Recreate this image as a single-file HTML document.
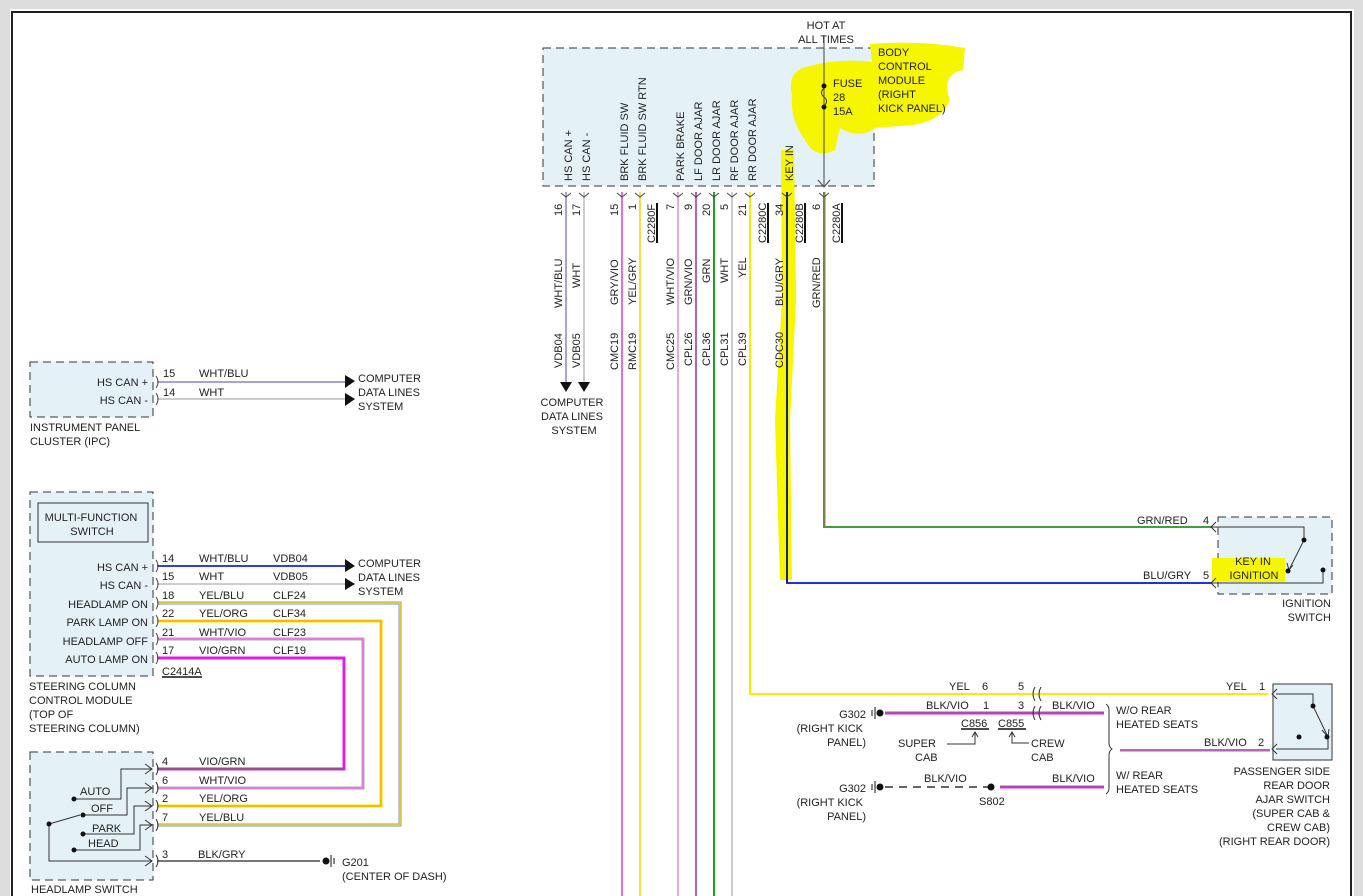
<!DOCTYPE html>
<html><head><meta charset="utf-8"><style>
html,body{margin:0;padding:0;background:#fff;}
svg{display:block;font-family:"Liberation Sans",sans-serif;font-size:11px;fill:#222;}
text{fill:#222;}
</style></head><body>
<svg width="1363" height="896" viewBox="0 0 1363 896" xmlns="http://www.w3.org/2000/svg">
<rect x="0" y="0" width="1363" height="896" fill="#fff"/>
<rect x="0" y="0" width="1363" height="9" fill="#ddd"/>
<rect x="1354" y="0" width="9" height="896" fill="#ddd"/>
<rect x="0" y="0" width="10" height="896" fill="#ddd"/>
<path d="M12,896 V12 H1351 V896" fill="none" stroke="#222" stroke-width="2"/>

<!-- BCM box -->
<rect x="543" y="48" width="331" height="138" fill="#e4f2f8" stroke="#333" stroke-dasharray="8,5"/>

<!-- yellow highlights -->
<g fill="#f6f600">
<path d="M870,44 Q920,40 965,48 L963,70 Q940,75 950,100 Q940,125 900,126 L875,128 Q860,140 840,128 L835,150 Q815,160 805,140 Q790,120 792,95 Q786,70 810,66 Q840,58 872,62 Z"/>
<path d="M781,150 L794,150 L796,300 L790,420 L792,580 L780,580 L775,420 L782,300 Z"/>
</g>

<g font-size="11">
<text x="826" y="29" text-anchor="middle">HOT AT</text>
<text x="826" y="43" text-anchor="middle">ALL TIMES</text>
<text x="833" y="87">FUSE</text><text x="833" y="101">28</text><text x="833" y="115">15A</text>
<text x="878" y="56">BODY</text><text x="878" y="70">CONTROL</text><text x="878" y="84">MODULE</text><text x="878" y="98">(RIGHT</text><text x="878" y="112">KICK PANEL)</text>
</g>
<line x1="824" y1="35" x2="824" y2="186" stroke="#444"/>
<path d="M818,180 L824,187 L830,180" fill="none" stroke="#444"/>
<circle cx="824" cy="86" r="2.5" fill="#111"/><circle cx="824" cy="107" r="2.5" fill="#111"/>
<path d="M824,88 q-5,5 0,9 q5,4 0,9" fill="none" stroke="#333"/>

<!-- BCM inside labels -->
<g font-size="11">
<text transform="translate(572,181) rotate(-90)">HS CAN +</text>
<text transform="translate(590,181) rotate(-90)">HS CAN -</text>
<text transform="translate(628,181) rotate(-90)">BRK FLUID SW</text>
<text transform="translate(646,181) rotate(-90)">BRK FLUID SW RTN</text>
<text transform="translate(684,181) rotate(-90)">PARK BRAKE</text>
<text transform="translate(702,181) rotate(-90)">LF DOOR AJAR</text>
<text transform="translate(720,181) rotate(-90)">LR DOOR AJAR</text>
<text transform="translate(738,181) rotate(-90)">RF DOOR AJAR</text>
<text transform="translate(756,181) rotate(-90)">RR DOOR AJAR</text>
<text transform="translate(793,181) rotate(-90)">KEY IN</text>
</g>

<!-- vertical wires -->
<g fill="none" stroke-width="2">
<path d="M566,192 V382" stroke="#a8a0e0"/>
<path d="M584,192 V382" stroke="#ccc"/>
<path d="M622,192 V896" stroke="#e070e0"/>
<path d="M640,192 V896" stroke="#f0e040"/>
<path d="M678,192 V896" stroke="#e8a8e0"/>
<path d="M696,192 V896" stroke="#c060b0"/>
<path d="M714,192 V896" stroke="#20a020"/>
<path d="M732,192 V896" stroke="#ccc"/>
<path d="M750,192 V694 H1268" stroke="#f0f000"/>
<path d="M787,192 V583 H1212" stroke="#2030e0"/>
<path d="M824,192 V527 H1212" stroke="#40a040"/>
<path d="M825,192 V527" stroke="#b07050" stroke-width="1"/>
<path d="M787,192 V583" stroke="#111" stroke-width="1"/>
</g>
<g fill="none" stroke="#444" stroke-width="1">
<path d="M561,193 l5,4 l5,-4 M579,193 l5,4 l5,-4 M617,193 l5,4 l5,-4 M635,193 l5,4 l5,-4 M673,193 l5,4 l5,-4 M691,193 l5,4 l5,-4 M709,193 l5,4 l5,-4 M727,193 l5,4 l5,-4 M745,193 l5,4 l5,-4 M782,193 l5,4 l5,-4 M819,193 l5,4 l5,-4"/>
</g>
<polygon points="560,382 572,382 566,392" fill="#111"/>
<polygon points="578,382 590,382 584,392" fill="#111"/>
<g font-size="11" text-anchor="middle">
<text x="572" y="406">COMPUTER</text><text x="572" y="420">DATA LINES</text><text x="574" y="434">SYSTEM</text>
</g>

<!-- pin numbers, colors, circuits -->
<g font-size="11">
<text transform="translate(562,216) rotate(-90)">16</text>
<text transform="translate(580,216) rotate(-90)">17</text>
<text transform="translate(618,216) rotate(-90)">15</text>
<text transform="translate(636,210) rotate(-90)">1</text>
<text transform="translate(674,210) rotate(-90)">7</text>
<text transform="translate(692,210) rotate(-90)">9</text>
<text transform="translate(710,216) rotate(-90)">20</text>
<text transform="translate(728,210) rotate(-90)">5</text>
<text transform="translate(746,216) rotate(-90)">21</text>
<text transform="translate(783,216) rotate(-90)">34</text>
<text transform="translate(820,210) rotate(-90)">6</text>
<text transform="translate(655,243) rotate(-90)">C2280F</text>
<text transform="translate(766,243) rotate(-90)">C2280C</text>
<text transform="translate(803,243) rotate(-90)">C2280B</text>
<text transform="translate(840,243) rotate(-90)">C2280A</text>
<text transform="translate(562,308) rotate(-90)">WHT/BLU</text>
<text transform="translate(580,288) rotate(-90)">WHT</text>
<text transform="translate(618,305) rotate(-90)">GRY/VIO</text>
<text transform="translate(636,305) rotate(-90)">YEL/GRY</text>
<text transform="translate(674,305) rotate(-90)">WHT/VIO</text>
<text transform="translate(692,305) rotate(-90)">GRN/VIO</text>
<text transform="translate(710,283) rotate(-90)">GRN</text>
<text transform="translate(728,283) rotate(-90)">WHT</text>
<text transform="translate(746,278) rotate(-90)">YEL</text>
<text transform="translate(783,306) rotate(-90)">BLU/GRY</text>
<text transform="translate(820,308) rotate(-90)">GRN/RED</text>
<text transform="translate(562,368) rotate(-90)">VDB04</text>
<text transform="translate(580,368) rotate(-90)">VDB05</text>
<text transform="translate(618,370) rotate(-90)">CMC19</text>
<text transform="translate(636,370) rotate(-90)">RMC19</text>
<text transform="translate(674,370) rotate(-90)">CMC25</text>
<text transform="translate(692,366) rotate(-90)">CPL26</text>
<text transform="translate(710,366) rotate(-90)">CPL36</text>
<text transform="translate(728,366) rotate(-90)">CPL31</text>
<text transform="translate(746,366) rotate(-90)">CPL39</text>
<text transform="translate(783,368) rotate(-90)">CDC30</text>
</g>
<g stroke="#111" stroke-width="2"><line x1="657" y1="203" x2="657" y2="243"/><line x1="768" y1="203" x2="768" y2="243"/><line x1="805" y1="203" x2="805" y2="243"/><line x1="842" y1="203" x2="842" y2="243"/></g>

<!-- IPC -->
<rect x="30" y="362" width="123" height="55" fill="#e4f2f8" stroke="#333" stroke-dasharray="8,5"/>
<g font-size="11">
<text x="148" y="386" text-anchor="end">HS CAN +</text>
<text x="148" y="404" text-anchor="end">HS CAN -</text>
<text x="30" y="431">INSTRUMENT PANEL</text><text x="30" y="445">CLUSTER (IPC)</text>
<text x="163" y="377">15</text><text x="199" y="377">WHT/BLU</text>
<text x="163" y="396">14</text><text x="199" y="396">WHT</text>
<text x="358" y="382">COMPUTER</text><text x="358" y="396">DATA LINES</text><text x="358" y="410">SYSTEM</text>
</g>
<line x1="157" y1="382" x2="345" y2="382" stroke="#a8a0e0" stroke-width="2"/>
<line x1="157" y1="399" x2="345" y2="399" stroke="#ccc" stroke-width="2"/>
<polygon points="345,375 355,381 345,388" fill="#111"/>
<polygon points="345,393 355,399 345,406" fill="#111"/>
<path d="M156,376 q4,6 0,12 M156,393 q4,6 0,12" fill="none" stroke="#444"/>

<!-- SCCM -->
<rect x="30" y="492" width="123" height="184" fill="#e4f2f8" stroke="#333" stroke-dasharray="8,5"/>
<rect x="38" y="503" width="110" height="39" fill="#e4f2f8" stroke="#333"/>
<g font-size="11">
<text x="91" y="521" text-anchor="middle">MULTI-FUNCTION</text><text x="92" y="535" text-anchor="middle">SWITCH</text>
<text x="148" y="571" text-anchor="end">HS CAN +</text>
<text x="148" y="589" text-anchor="end">HS CAN -</text>
<text x="148" y="608" text-anchor="end">HEADLAMP ON</text>
<text x="148" y="626" text-anchor="end">PARK LAMP ON</text>
<text x="148" y="645" text-anchor="end">HEADLAMP OFF</text>
<text x="148" y="663" text-anchor="end">AUTO LAMP ON</text>
<text x="162" y="675">C2414A</text>
<text x="29" y="690">STEERING COLUMN</text><text x="29" y="704">CONTROL MODULE</text><text x="29" y="718">(TOP OF</text><text x="29" y="732">STEERING COLUMN)</text>
<text x="162" y="562">14</text><text x="199" y="562">WHT/BLU</text><text x="273" y="562">VDB04</text>
<text x="162" y="580">15</text><text x="199" y="580">WHT</text><text x="273" y="580">VDB05</text>
<text x="162" y="599">18</text><text x="199" y="599">YEL/BLU</text><text x="273" y="599">CLF24</text>
<text x="162" y="617">22</text><text x="199" y="617">YEL/ORG</text><text x="273" y="617">CLF34</text>
<text x="162" y="636">21</text><text x="199" y="636">WHT/VIO</text><text x="273" y="636">CLF23</text>
<text x="162" y="654">17</text><text x="199" y="654">VIO/GRN</text><text x="273" y="654">CLF19</text>
<text x="358" y="567">COMPUTER</text><text x="358" y="581">DATA LINES</text><text x="358" y="595">SYSTEM</text>
</g>
<line x1="162" y1="677" x2="202" y2="677" stroke="#111" stroke-width="1.5"/>
<line x1="157" y1="566" x2="345" y2="566" stroke="#3040e0" stroke-width="2"/>
<line x1="157" y1="584" x2="345" y2="584" stroke="#ccc" stroke-width="2"/>
<polygon points="345,559 355,566 345,572" fill="#111"/>
<polygon points="345,578 355,584 345,590" fill="#111"/>
<g fill="none" stroke-width="2">
<path d="M157,603 H400 V825 H157" stroke="#8090e0" stroke-width="3"/>
<path d="M157,603 H400 V825 H157" stroke="#f0e000" stroke-width="1.5"/>
<path d="M157,621 H381 V806 H157" stroke="#f0e000" stroke-width="3"/>
<path d="M157,621 H381 V806 H157" stroke="#f0a000" stroke-width="1"/>
<path d="M157,639 H363 V788 H157" stroke="#aaa" stroke-width="3"/>
<path d="M157,639 H363 V788 H157" stroke="#f070f0" stroke-width="1.5"/>
<path d="M157,658 H344 V769 H157" stroke="#e020e0" stroke-width="3"/>
<path d="M157,768 H344" stroke="#309030" stroke-width="1"/>
<path d="M157,861 H320" stroke="#777"/>
</g>
<path d="M156,560 q4,6 0,12 M156,578 q4,6 0,12 M156,597 q4,6 0,12 M156,615 q4,6 0,12 M156,633 q4,6 0,12 M156,652 q4,6 0,12" fill="none" stroke="#444"/>

<!-- headlamp switch -->
<rect x="30" y="752" width="123" height="128" fill="#e4f2f8" stroke="#333" stroke-dasharray="8,5"/>
<g fill="none" stroke="#333" stroke-width="1">
<path d="M74,799 H121 V769 H152 M145,764 l7,5 l-7,5"/>
<path d="M83,815 H127 V788 H152 M145,783 l7,5 l-7,5"/>
<path d="M83,834 H134 V806 H152 M145,801 l7,5 l-7,5"/>
<path d="M74,850 H140 V825 H152 M145,820 l7,5 l-7,5"/>
<path d="M49,824 L80,815"/>
<path d="M49,824 V861 H152 M145,856 l7,5 l-7,5"/>
<path d="M156,763 q4,6 0,12 M156,782 q4,6 0,12 M156,800 q4,6 0,12 M156,819 q4,6 0,12 M156,855 q4,6 0,12"/>
</g>
<g fill="#111"><circle cx="74" cy="799" r="2.5"/><circle cx="83" cy="815" r="2.5"/><circle cx="83" cy="834" r="2.5"/><circle cx="74" cy="850" r="2.5"/><circle cx="49" cy="824" r="2.5"/></g>
<g font-size="11">
<text x="80" y="795">AUTO</text><text x="91" y="812">OFF</text><text x="92" y="832">PARK</text><text x="88" y="847">HEAD</text>
<text x="31" y="893">HEADLAMP SWITCH</text>
<text x="162" y="765">4</text><text x="199" y="765">VIO/GRN</text>
<text x="162" y="784">6</text><text x="199" y="784">WHT/VIO</text>
<text x="162" y="802">2</text><text x="199" y="802">YEL/ORG</text>
<text x="162" y="821">7</text><text x="199" y="821">YEL/BLU</text>
<text x="162" y="858">3</text><text x="198" y="858">BLK/GRY</text>
<text x="342" y="866">G201</text><text x="342" y="880">(CENTER OF DASH)</text>
</g>
<circle cx="326" cy="861" r="3.5" fill="#111"/>
<path d="M331,855 V867 M334,858 V864" stroke="#111"/>

<!-- ignition switch -->
<rect x="1218" y="517" width="114" height="77" fill="#e4f2f8" stroke="#333" stroke-dasharray="8,5"/>
<rect x="1212" y="558" width="73" height="24" fill="#f6f600"/>
<g fill="none" stroke="#333">
<path d="M1212,527 H1304 V540 M1212,583 H1323 V570"/>
<path d="M1304,540 L1289,570" /><path d="M1287,563 l2,7 l4,-5"/>
<path d="M1216,522 l-5,5 l5,5 M1216,578 l-5,5 l5,5"/>
</g>
<g fill="#111"><circle cx="1304" cy="540" r="2.5"/><circle cx="1288" cy="571" r="2.5"/><circle cx="1323" cy="570" r="2.5"/></g>
<g font-size="11">
<text x="1253" y="565" text-anchor="middle">KEY IN</text><text x="1254" y="579" text-anchor="middle">IGNITION</text>
<text x="1137" y="524">GRN/RED</text><text x="1203" y="524">4</text>
<text x="1143" y="579">BLU/GRY</text><text x="1203" y="579">5</text>
<text x="1331" y="607" text-anchor="end">IGNITION</text><text x="1331" y="621" text-anchor="end">SWITCH</text>
</g>

<!-- passenger rear door -->
<rect x="1273" y="684" width="59" height="76" fill="#e4f2f8" stroke="#333"/>
<g fill="none" stroke="#333">
<path d="M1276,694 H1313 V706 L1328,737 V749 H1276"/>
<path d="M1322,730 l6,7 l1,-8"/>
<path d="M1277,689 l-5,5 l5,5 M1277,744 l-5,5 l5,5"/>
</g>
<g fill="#111"><circle cx="1313" cy="706" r="2.5"/><circle cx="1327" cy="737" r="2.5"/><circle cx="1299" cy="737" r="2.5"/></g>
<line x1="1120" y1="750" x2="1270" y2="750" stroke="#888" stroke-width="2"/>
<line x1="1120" y1="751" x2="1270" y2="751" stroke="#e040e0" stroke-width="1"/>
<g font-size="11">
<text x="1226" y="690">YEL</text><text x="1259" y="690">1</text>
<text x="1204" y="746">BLK/VIO</text><text x="1258" y="746">2</text>
<text x="1330" y="775" text-anchor="end">PASSENGER SIDE</text>
<text x="1330" y="789" text-anchor="end">REAR DOOR</text>
<text x="1330" y="803" text-anchor="end">AJAR SWITCH</text>
<text x="1330" y="817" text-anchor="end">(SUPER CAB &amp;</text>
<text x="1330" y="831" text-anchor="end">CREW CAB)</text>
<text x="1330" y="845" text-anchor="end">(RIGHT REAR DOOR)</text>
</g>

<!-- lower middle -->
<line x1="885" y1="713" x2="1104" y2="713" stroke="#e020e0" stroke-width="3"/>
<line x1="885" y1="712" x2="1104" y2="712" stroke="#777" stroke-width="1"/>
<line x1="885" y1="787" x2="990" y2="787" stroke="#666" stroke-width="2" stroke-dasharray="8,6"/>
<line x1="1000" y1="787" x2="1104" y2="787" stroke="#e020e0" stroke-width="3"/>
<line x1="1000" y1="786" x2="1104" y2="786" stroke="#777" stroke-width="1"/>
<circle cx="991" cy="787" r="3.5" fill="#111"/>
<g fill="none" stroke="#333">
<path d="M1035,687 q-4,7 0,14 M1041,687 q-4,7 0,14 M1035,706 q-4,7 0,14 M1041,706 q-4,7 0,14"/>
<path d="M1106,704 q3,2 3,6 V743 q0,4 3,6 q-3,2 -3,6 V788 q0,4 -3,6"/>
<path d="M947,744 H975 V732 M972,737 l3,-5 l3,5"/>
<path d="M1012,732 V743 H1029 M1009,737 l3,-5 l3,5"/>
</g>
<g fill="#111"><circle cx="880" cy="713" r="3.5"/><circle cx="880" cy="787" r="3.5"/></g>
<path d="M875,707 V719 M872,710 V716 M875,781 V793 M872,784 V790" stroke="#111"/>
<g stroke="#111" stroke-width="1.5"><line x1="961" y1="729" x2="989" y2="729"/><line x1="998" y1="729" x2="1026" y2="729"/></g>
<g font-size="11">
<text x="949" y="690">YEL</text><text x="982" y="690">6</text><text x="1018" y="690">5</text>
<text x="926" y="709">BLK/VIO</text><text x="983" y="709">1</text><text x="1018" y="709">3</text>
<text x="1052" y="709">BLK/VIO</text>
<text x="961" y="727">C856</text><text x="998" y="727">C855</text>
<text x="898" y="747">SUPER</text><text x="915" y="761">CAB</text>
<text x="1031" y="747">CREW</text><text x="1031" y="761">CAB</text>
<text x="1116" y="714">W/O REAR</text><text x="1116" y="728">HEATED SEATS</text>
<text x="1116" y="779">W/ REAR</text><text x="1116" y="793">HEATED SEATS</text>
<text x="924" y="782">BLK/VIO</text><text x="1052" y="782">BLK/VIO</text>
<text x="979" y="805">S802</text>
<text x="866" y="718" text-anchor="end">G302</text>
<text x="863" y="732" text-anchor="end">(RIGHT KICK</text><text x="866" y="746" text-anchor="end">PANEL)</text>
<text x="866" y="792" text-anchor="end">G302</text>
<text x="863" y="806" text-anchor="end">(RIGHT KICK</text><text x="866" y="820" text-anchor="end">PANEL)</text>
</g>
</svg>
</body></html>
